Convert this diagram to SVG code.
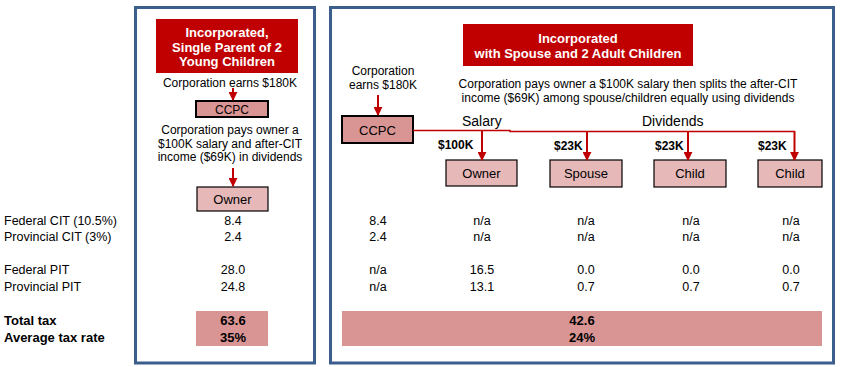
<svg xmlns="http://www.w3.org/2000/svg" width="842" height="367" viewBox="0 0 842 367">
<style>
text{font-family:"Liberation Sans",Arial,sans-serif;fill:#000}
.t{font-size:12px}
.r{font-size:12.5px}
.c{text-anchor:middle}
.b{font-weight:bold;font-size:13px}
.title{font-size:13px;font-weight:bold;fill:#fff;text-anchor:middle}
.panel{fill:none;stroke:#3B5E8C;stroke-width:3}
.red{fill:#C00000}
.ccpc{fill:#D99594;stroke:#000;stroke-width:2}
.node{fill:#E6B9B8;stroke:#000;stroke-width:1.2}
.tot{fill:#D99594}
.con{stroke:#C00000;stroke-width:2;fill:none}
.line{stroke:#C00000;stroke-width:1.5;fill:none}
.lbl{font-size:13px;text-anchor:middle}
</style>
<defs>
<marker id="ah" viewBox="0 0 10 10" refX="9" refY="5" markerWidth="4.5" markerHeight="4.5" orient="auto" markerUnits="strokeWidth">
<path d="M0,0 L10,5 L0,10 Z" fill="#C00000"/>
</marker>
</defs>

<g id="panels">
<rect class="panel" x="135.5" y="7.5" width="179" height="355.5"/>
<rect class="panel" x="330.5" y="7.5" width="503" height="355.5"/>
</g>

<g id="row-labels">
<text class="r" x="4" y="225">Federal CIT (10.5%)</text>
<text class="r" x="4" y="241">Provincial CIT (3%)</text>
<text class="r" x="4" y="274">Federal PIT</text>
<text class="r" x="4" y="291">Provincial PIT</text>
<text class="b" x="4" y="325">Total tax</text>
<text class="b" x="4" y="342">Average tax rate</text>
</g>

<g id="left-title">
<rect class="red" x="156" y="19" width="142" height="54"/>
<text class="title" x="227" y="37">Incorporated,</text>
<text class="title" x="227" y="51.5">Single Parent of 2</text>
<text class="title" x="227" y="66">Young Children</text>
</g>
<g id="left-earns">
<text class="t c" x="230" y="87">Corporation earns $180K</text>
</g>
<g id="left-ccpc">
<rect class="ccpc" x="196" y="101" width="72" height="16"/>
<text class="t c" x="232" y="114">CCPC</text>
</g>
<g id="left-desc">
<text class="t c" x="230" y="134">Corporation pays owner a</text>
<text class="t c" x="230" y="148">$100K salary and after-CIT</text>
<text class="t c" x="230" y="161">income ($69K) in dividends</text>
</g>
<g id="left-owner">
<rect class="node" x="197" y="187" width="71" height="24"/>
<text class="lbl" x="232.5" y="204">Owner</text>
</g>
<g id="left-values">
<text class="r c" x="233" y="225">8.4</text>
<text class="r c" x="233" y="241">2.4</text>
<text class="r c" x="233" y="274">28.0</text>
<text class="r c" x="233" y="291">24.8</text>
<rect class="tot" x="196" y="311" width="72" height="35"/>
<text class="b c" x="233" y="325">63.6</text>
<text class="b c" x="233" y="342">35%</text>
</g>

<g id="right-title">
<rect class="red" x="463" y="24" width="230" height="42"/>
<text class="title" x="578" y="43">Incorporated</text>
<text class="title" x="578" y="58">with Spouse and 2 Adult Children</text>
</g>
<g id="right-earns">
<text class="t c" x="383" y="75">Corporation</text>
<text class="t c" x="383" y="89">earns $180K</text>
</g>
<g id="right-desc">
<text class="t c" x="628" y="88">Corporation pays owner a $100K salary then splits the after-CIT</text>
<text class="t c" x="628" y="102">income ($69K) among spouse/children equally using dividends</text>
</g>
<g id="right-ccpc">
<rect class="ccpc" x="342" y="116" width="71" height="27" stroke-width="2.5"/>
<text class="lbl" x="377.5" y="134.5">CCPC</text>
</g>
<g id="flow-labels">
<text x="462" y="126" style="font-size:14px">Salary</text>
<text x="642" y="126" style="font-size:14px">Dividends</text>
<text class="t" x="438" y="149" font-weight="bold">$100K</text>
<text class="t" x="554" y="150" font-weight="bold">$23K</text>
<text class="t" x="655" y="150" font-weight="bold">$23K</text>
<text class="t" x="758" y="150" font-weight="bold">$23K</text>
</g>
<g id="right-owner">
<rect class="node" x="446" y="160" width="71" height="26"/>
<text class="lbl" x="481.5" y="178">Owner</text>
</g>
<g id="right-spouse">
<rect class="node" x="550" y="160" width="72" height="27"/>
<text class="lbl" x="586" y="178">Spouse</text>
</g>
<g id="right-child1">
<rect class="node" x="654" y="160" width="72" height="27"/>
<text class="lbl" x="690" y="178">Child</text>
</g>
<g id="right-child2">
<rect class="node" x="758" y="160" width="64" height="27"/>
<text class="lbl" x="790" y="178">Child</text>
</g>
<g id="right-values">
<text class="r c" x="378" y="225">8.4</text>
<text class="r c" x="378" y="241">2.4</text>
<text class="r c" x="378" y="274">n/a</text>
<text class="r c" x="378" y="291">n/a</text>
<text class="r c" x="482" y="225">n/a</text>
<text class="r c" x="482" y="241">n/a</text>
<text class="r c" x="482" y="274">16.5</text>
<text class="r c" x="482" y="291">13.1</text>
<text class="r c" x="586" y="225">n/a</text>
<text class="r c" x="586" y="241">n/a</text>
<text class="r c" x="586" y="274">0.0</text>
<text class="r c" x="586" y="291">0.7</text>
<text class="r c" x="691" y="225">n/a</text>
<text class="r c" x="691" y="241">n/a</text>
<text class="r c" x="691" y="274">0.0</text>
<text class="r c" x="691" y="291">0.7</text>
<text class="r c" x="791" y="225">n/a</text>
<text class="r c" x="791" y="241">n/a</text>
<text class="r c" x="791" y="274">0.0</text>
<text class="r c" x="791" y="291">0.7</text>
<rect class="tot" x="342" y="311" width="480" height="35"/>
<text class="b c" x="582" y="325">42.6</text>
<text class="b c" x="582" y="342">24%</text>
</g>

<g id="connectors">
<line class="con" x1="233" y1="88" x2="233" y2="100" marker-end="url(#ah)"/>
<line class="con" x1="233" y1="168" x2="233" y2="186" marker-end="url(#ah)"/>
<line class="con" x1="378" y1="95" x2="378" y2="115" marker-end="url(#ah)"/>
<polyline class="line" points="413,130.5 510,130.5 510,131.5 795,131.5"/>
<line class="con" x1="482" y1="131" x2="482" y2="160" marker-end="url(#ah)"/>
<line class="con" x1="587" y1="131" x2="587" y2="160" marker-end="url(#ah)"/>
<line class="con" x1="688" y1="131" x2="688" y2="160" marker-end="url(#ah)"/>
<line class="con" x1="794.5" y1="131" x2="794.5" y2="160" marker-end="url(#ah)"/>
</g>
</svg>
